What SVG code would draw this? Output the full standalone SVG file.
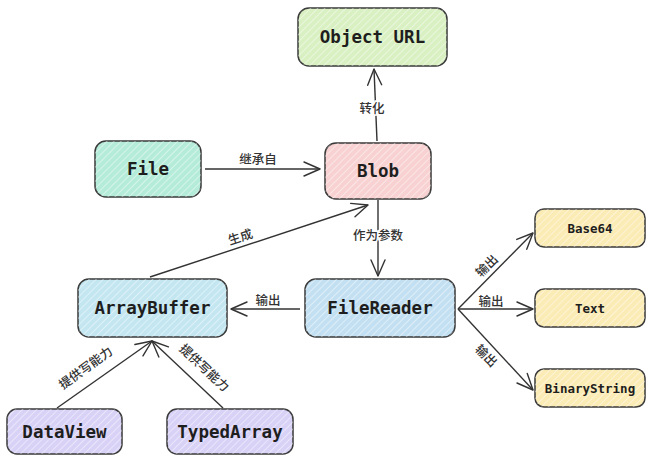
<svg xmlns="http://www.w3.org/2000/svg" width="650" height="459" viewBox="0 0 650 459">
<defs>
<pattern id="hatch" width="5" height="5" patternUnits="userSpaceOnUse" patternTransform="rotate(45)">
<line x1="0" y1="0" x2="0" y2="5" stroke="#ffffff" stroke-width="1.6" stroke-opacity="0.55"/>
</pattern>
<marker id="arr" viewBox="0 0 20 20" refX="19" refY="10" markerWidth="20" markerHeight="20" markerUnits="userSpaceOnUse" orient="auto">
<polyline points="3,3 19,10 3,17" fill="none" stroke="#333" stroke-width="1.4" stroke-linecap="round" stroke-linejoin="round"/>
</marker>
</defs>
<style>
.box{stroke:#3a3a3a;stroke-width:1.5}
.h{fill:url(#hatch);stroke:none}
.t{font-family:"DejaVu Sans Mono","Liberation Mono",monospace;font-weight:bold;fill:#1e1e1e;text-anchor:middle;dominant-baseline:central}
.big{font-size:17.5px}
.sm{font-size:12.5px}
.lb{font-family:"Noto Sans CJK SC","Noto Sans",sans-serif;font-size:12.5px;font-weight:500;fill:#333;text-anchor:middle;dominant-baseline:central}
.c{stroke:#333;stroke-width:1.4;fill:none;marker-end:url(#arr)}
</style>
<rect width="650" height="459" fill="#ffffff"/>

<g id="objecturl">
<rect class="box" x="298" y="8" width="149" height="58" rx="11" fill="#d9f0c2"/>
<rect class="h" x="298" y="8" width="149" height="58" rx="11"/>
<text class="t big" x="372.5" y="37">Object URL</text>
</g>
<g id="file">
<rect class="box" x="95" y="141" width="106" height="56" rx="11" fill="#b5ecd9"/>
<rect class="h" x="95" y="141" width="106" height="56" rx="11"/>
<text class="t big" x="148" y="169">File</text>
</g>
<g id="blob">
<rect class="box" x="325" y="143" width="106" height="56" rx="11" fill="#f8d2d2"/>
<rect class="h" x="325" y="143" width="106" height="56" rx="11"/>
<text class="t big" x="378" y="171">Blob</text>
</g>
<g id="arraybuffer">
<rect class="box" x="78" y="279" width="149" height="58" rx="11" fill="#c3e6f1"/>
<rect class="h" x="78" y="279" width="149" height="58" rx="11"/>
<text class="t big" x="152.5" y="308">ArrayBuffer</text>
</g>
<g id="filereader">
<rect class="box" x="305" y="279" width="150" height="58" rx="11" fill="#c3e0f2"/>
<rect class="h" x="305" y="279" width="150" height="58" rx="11"/>
<text class="t big" x="380" y="308">FileReader</text>
</g>
<g id="base64">
<rect class="box" x="535" y="209" width="110" height="38" rx="9" fill="#fbebb5"/>
<rect class="h" x="535" y="209" width="110" height="38" rx="9"/>
<text class="t sm" x="590" y="228">Base64</text>
</g>
<g id="text">
<rect class="box" x="535" y="289" width="110" height="38" rx="9" fill="#fbebb5"/>
<rect class="h" x="535" y="289" width="110" height="38" rx="9"/>
<text class="t sm" x="590" y="308">Text</text>
</g>
<g id="binarystring">
<rect class="box" x="535" y="369" width="110" height="38" rx="9" fill="#fbebb5"/>
<rect class="h" x="535" y="369" width="110" height="38" rx="9"/>
<text class="t sm" x="590" y="388">BinaryString</text>
</g>
<g id="dataview">
<rect class="box" x="7" y="409" width="115" height="45" rx="10" fill="#d9d2f7"/>
<rect class="h" x="7" y="409" width="115" height="45" rx="10"/>
<text class="t big" x="64.5" y="432">DataView</text>
</g>
<g id="typedarray">
<rect class="box" x="167" y="409" width="126" height="45" rx="10" fill="#d9d2f7"/>
<rect class="h" x="167" y="409" width="126" height="45" rx="10"/>
<text class="t big" x="230" y="432">TypedArray</text>
</g>

<g id="connectors">
<line class="c" x1="377" y1="141" x2="374" y2="69"/>
<line class="c" x1="205" y1="169" x2="320" y2="169"/>
<line class="c" x1="150" y1="277" x2="368" y2="205"/>
<line class="c" x1="378" y1="200" x2="378" y2="276"/>
<line class="c" x1="300" y1="309" x2="231" y2="309"/>
<line class="c" x1="458" y1="309" x2="533" y2="233"/>
<line class="c" x1="458" y1="309" x2="533" y2="309"/>
<line class="c" x1="458" y1="309" x2="533" y2="390"/>
<line class="c" x1="57" y1="408" x2="152" y2="341"/>
<line class="c" x1="223" y1="408" x2="152" y2="341"/>
</g>

<g id="labels">
<text class="lb" x="372" y="107" style="paint-order:stroke;stroke:#fff;stroke-width:3px">转化</text>
<text class="lb" x="258" y="158">继承自</text>
<text class="lb" transform="translate(240,236) rotate(-18)">生成</text>
<text class="lb" x="378" y="234" style="paint-order:stroke;stroke:#fff;stroke-width:3px">作为参数</text>
<text class="lb" x="268" y="299">输出</text>
<text class="lb" transform="translate(486,265) rotate(-45)">输出</text>
<text class="lb" x="491" y="300">输出</text>
<text class="lb" transform="translate(487,355) rotate(45)">输出</text>
<text class="lb" transform="translate(85,367) rotate(-36)">提供写能力</text>
<text class="lb" transform="translate(205,367) rotate(43)">提供写能力</text>
</g>
</svg>
